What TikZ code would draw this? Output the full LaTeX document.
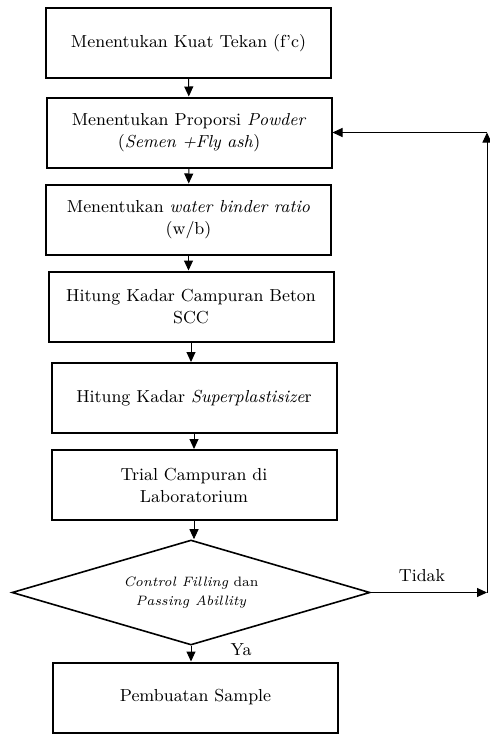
\documentclass[tikz,border=0pt]{standalone}
\usepackage{tikz}
\usetikzlibrary{shapes.geometric,arrows.meta}
\tikzset{
	proses/.style={draw,line width=1pt,minimum width=142.5pt,minimum height=35pt,inner sep=1pt,align=center,font=\fontsize{8.7}{11}\selectfont},
	cek/.style={draw,diamond,line width=0.8pt,minimum width=179pt,minimum height=52.5pt,inner sep=0pt,aspect=3.4,align=center,font=\fontsize{6.8}{9.5}\selectfont},
	panah/.style={line width=0.5pt,-{Triangle[length=5pt,width=4.5pt]}},
	ket/.style={font=\fontsize{8.7}{11}\selectfont}
}
\begin{document}
\begin{tikzpicture}[x=0.5pt,y=-0.5pt]
	\useasboundingbox (0,0) rectangle (490,734);
	\node [proses] (a) at (188.5,43) {Menentukan Kuat Tekan (f'c)};
	\node [proses] (b) at (189,132.5) {Menentukan Proporsi \textit{Powder}\\(\textit{Semen +Fly ash})};
	\node [proses] (c) at (188.5,219.5) {Menentukan \textit{water binder ratio}\\(w/b)};
	\node [proses] (d) at (191,306.5) {Hitung Kadar Campuran Beton\\SCC};
	\node [proses] (e) at (194,398) {Hitung Kadar \textit{Superplastisize}r};
	\node [proses] (f) at (194,485) {Trial Campuran di\\Laboratorium};
	\node [cek] (g) at (191,592.5) {\textit{Control Filling} dan\\\textit{Passing Abillity}};
	\node [proses] (h) at (195.5,697.5) {Pembuatan Sample};
	\coordinate (k1) at (487,592.5);
	\coordinate (k2) at (487,132.5);
	
	\draw [panah] (a) -- (b);
	\draw [panah] (b) -- (c);
	\draw [panah] (c.south) -- (c.south |- d.north);
	\draw [panah] (d.south) -- (d.south |- e.north);
	\draw [panah] (e) -- (f);
	\draw [panah] (f.south) -- (f.south |- g.north);
	\draw [panah] (g.south) -- (g.south |- h.north);
	\draw [panah] (g.east) -- (k1);
	\draw [panah] (k1) -- (k2);
	\draw [panah] (k2) -- (b.east);
	\node [ket] (tidak) at (422,576) {Tidak};
	\node [ket] (ya) at (241,650) {Ya};
\end{tikzpicture}
\end{document}
